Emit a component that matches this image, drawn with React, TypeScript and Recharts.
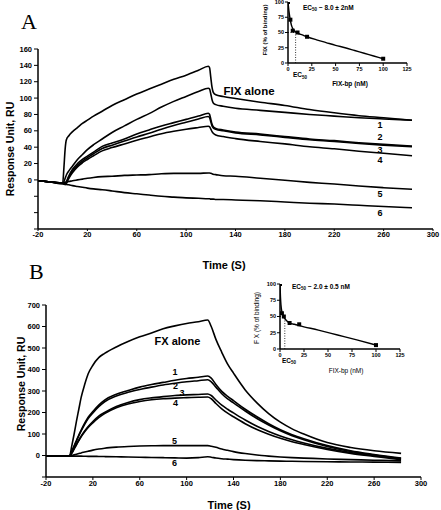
import React from 'react';
import { LineChart, Line, XAxis, YAxis, ComposedChart, ReferenceLine } from 'recharts';

// ---------- Panel A (FIX) ----------
const timeA = [-20, -10, 0, 1, 2, 3, 5, 8, 12, 16, 20, 25, 32, 40, 50, 60, 70, 80, 90, 100, 110, 118, 119, 120, 121, 122, 124, 130, 140, 160, 180, 200, 220, 240, 260, 283];
const fixAloneA = [-1, -2.5, -4, 15, 38, 49, 54, 59, 64, 69, 73, 78, 84, 91, 98, 105, 111, 117, 123, 128, 134, 139, 137, 125, 113, 107, 104, 102, 99.5, 95, 91, 86, 82, 78.5, 76, 73];
const curve1A = [-1, -2.5, -4, -2, 2, 6, 11, 17, 25, 31, 37, 43, 50, 58, 66, 74, 81, 89, 96, 102, 108, 112, 111, 105, 98, 94, 92, 90, 87.5, 85, 82.5, 80, 78, 76, 74.5, 73];
const curve2A = [-1, -2.5, -4, -4.5, -4.5, -2, 5, 13, 20, 25, 29, 34, 41, 45, 50, 56, 61, 66, 70, 74, 78, 81.5, 80, 74, 68, 65, 63, 61, 58.5, 56, 53, 50, 48, 45.5, 43.5, 41.5];
const curve3A = [-1, -2.5, -4, -4.5, -5, -3, 3, 11, 18, 23, 27, 32, 38.5, 42.5, 47.5, 52.5, 57, 62, 66.5, 70.5, 74.5, 77.5, 76, 71, 66, 63.5, 62, 60, 57.5, 55, 52, 49, 47, 44.5, 42.5, 40.5];
const curve4A = [-1, -2.5, -4, -5, -5.5, -4, 2, 9, 16, 21, 25, 29.5, 35.5, 39.5, 44, 48.5, 52.5, 56.5, 59.5, 62, 64, 65.5, 65, 62, 59, 57, 55, 53, 50.5, 47, 44, 40.5, 38, 35, 32.5, 29.5];
const curve5A = [-1, -2.5, -4, -3.5, -3, -2.5, -2, -1, 0, 1, 2, 3, 4, 4.5, 5.5, 6, 6.5, 7.5, 8, 8, 8, 8.5, 8.5, 8, 7.5, 7, 6.5, 5, 4.5, 2, -0.5, -3, -5, -7.5, -9.5, -11.5];
const curve6A = [-1, -2.5, -5, -5, -5.5, -5.5, -6, -7, -8, -9, -10, -11, -12, -13.5, -15.5, -17, -18.5, -20, -21, -22, -22.5, -23, -23, -23.5, -23.5, -23.5, -24, -24, -24.5, -25.5, -27, -28.5, -29.5, -31, -32.5, -34];

// ---------- Panel B (FX) ----------
const timeB = [-20, -10, 0, 2, 4, 6, 8, 10, 13, 16, 20, 25, 30, 40, 50, 60, 70, 80, 90, 100, 110, 118, 121, 125, 130, 135, 140, 150, 160, 170, 180, 190, 200, 220, 240, 260, 283];
const fxAloneB = [-3, -3, -3, 45, 100, 160, 215, 270, 330, 380, 420, 455, 475, 505, 530, 552, 570, 590, 603, 614, 622, 630, 600, 540, 480, 425, 383, 305, 245, 195, 155, 124, 100, 60, 37, 22, 10];
const curve1B = [-3, -3, -3, 20, 45, 70, 95, 118, 150, 178, 205, 235, 258, 285, 302, 318, 330, 340, 350, 358, 364, 370, 360, 330, 298, 275, 255, 215, 180, 148, 120, 97, 78, 46, 22, 5, -12];
const curve2B = [-3, -3, -3, 18, 42, 67, 92, 114, 145, 172, 198, 227, 250, 277, 294, 307, 318, 328, 336, 343, 348, 352, 343, 318, 287, 263, 245, 207, 172, 142, 115, 92, 73, 42, 19, 2, -14];
const curve3B = [-3, -3, -3, 12, 32, 52, 72, 90, 114, 135, 158, 183, 200, 228, 247, 260, 268, 274, 279, 282, 284, 286, 279, 258, 234, 215, 198, 165, 136, 112, 91, 73, 58, 33, 14, 0, -17];
const curve4B = [-3, -3, -3, 10, 30, 50, 69, 87, 110, 130, 152, 176, 195, 222, 240, 251, 259, 264, 267, 269, 271, 272, 264, 242, 217, 197, 180, 148, 121, 99, 80, 64, 51, 28, 10, -4, -20];
const curve5B = [-3, -3, -3, 0, 3, 6, 9, 12, 16, 20, 25, 30, 34, 39, 42, 44, 45, 46, 46, 46, 46, 46, 43, 38, 30, 24, 18, 9, 2, -3, -7, -10, -12, -16, -19, -22, -25];
const curve6B = [-3, -3, -3, -3, -3, -3, -3, -3, -3.5, -4, -4, -4.5, -5, -6, -7, -8, -9, -10, -11, -12, -10, -6, -8, -12, -15, -17, -19, -22, -24, -25, -26, -27, -28, -29, -30, -31, -32];

// ---------- Insets ----------
const insetAFitX = [0, 1, 2, 3, 4, 6, 8, 10, 15, 20, 30, 40, 50, 60, 70, 80, 90, 100];
const insetAFitY = [100, 85, 74, 66, 60, 54, 51, 49, 46, 43, 38, 33.5, 29, 25, 20.5, 16, 11.5, 7];
const insetAPtX = [0, 2.5, 5, 10, 20, 100];
const insetAPtY = [100, 71, 53, 50, 43, 7];
const ec50A = 8;

const insetBFitX = [0, 0.5, 1, 2, 3, 4, 6, 8, 10, 15, 20, 40, 60, 80, 100];
const insetBFitY = [100, 80, 68, 57, 52, 49, 45, 42, 40, 38, 36, 29, 21.5, 14, 6];
const insetBPtX = [0, 2, 4, 10, 20, 100];
const insetBPtY = [100, 55, 50, 40, 38, 6];
const ec50B = 5;

// ---------- Ticks ----------
const timeTicks = [-20, 20, 60, 100, 140, 180, 220, 260, 300];
const yTicksA = [-60, -40, -20, 0, 20, 40, 60, 80, 100, 120, 140, 160];
const yTicksB = [-100, 0, 100, 200, 300, 400, 500, 600, 700];
const insetXTicks = [0, 25, 50, 75, 100, 125];
const insetYTicks = [0, 25, 50, 75, 100];

const keysA = ['fix', 'c1', 'c2', 'c3', 'c4', 'c5', 'c6'];
const seriesA = [fixAloneA, curve1A, curve2A, curve3A, curve4A, curve5A, curve6A];
const seriesB = [fxAloneB, curve1B, curve2B, curve3B, curve4B, curve5B, curve6B];

const rowsA = timeA.map((t, i) => {
  const r: any = { t };
  keysA.forEach((k, j) => (r[k] = seriesA[j][i]));
  return r;
});
const rowsB = timeB.map((t, i) => {
  const r: any = { t };
  keysA.forEach((k, j) => (r[k] = seriesB[j][i]));
  return r;
});
const zipXY = (xs: number[], ys: number[]) => xs.map((x, i) => ({ x, y: ys[i] }));

const SANS = 'Liberation Sans, Arial, sans-serif';
const tickStyle = { fontSize: 7.5, fontWeight: 700, fill: '#000', fontFamily: SANS };
const insetTick = { fontSize: 5.5, fontWeight: 700, fill: '#000', fontFamily: SANS };
const axisLine = { stroke: '#000', strokeWidth: 1.5 };
const tickLine = { stroke: '#000', strokeWidth: 1 };

const Square = (p: any) => {
  if (p.cx == null || p.cy == null) return null;
  return <rect key={`sq-${p.index}`} x={p.cx - 2} y={p.cy - 2} width={4} height={4} fill="#000" />;
};

function Inset({ fit, pts, ec, left, top, w, h, margin, yw }: any) {
  return (
    <div style={{ position: 'absolute', left, top }}>
      <ComposedChart width={w} height={h} margin={margin}>
        <XAxis type="number" dataKey="x" domain={[0, 125]} ticks={insetXTicks} interval={0} tick={insetTick}
          tickSize={3} tickMargin={1} height={12} axisLine={axisLine} tickLine={tickLine} allowDataOverflow />
        <YAxis type="number" dataKey="y" domain={[0, 100]} ticks={insetYTicks} interval={0} tick={insetTick}
          tickSize={3} tickMargin={1} width={yw} axisLine={axisLine} tickLine={tickLine} allowDataOverflow />
        <ReferenceLine segment={[{ x: ec, y: 0 }, { x: ec, y: 50 }]} stroke="#000" strokeWidth={0.8} strokeDasharray="1 1.5" />
        <ReferenceLine segment={[{ x: 0, y: 50 }, { x: ec, y: 50 }]} stroke="#000" strokeWidth={0.8} strokeDasharray="1 1.5" />
        <Line data={fit} dataKey="y" type="monotone" stroke="#000" strokeWidth={1.4} dot={false} isAnimationActive={false} />
        <Line data={pts} dataKey="y" stroke="none" dot={<Square />} isAnimationActive={false} />
      </ComposedChart>
    </div>
  );
}

export default function App() {
  const lines = keysA.map((k) => (
    <Line key={k} dataKey={k} type="monotone" stroke="#000" strokeWidth={1.6} dot={false} isAnimationActive={false} />
  ));
  return (
    <div style={{ position: 'absolute', left: 0, top: 0, width: 441, height: 510, background: '#fff' }}>
      <div style={{ position: 'absolute', left: 0, top: 0 }}>
        <LineChart width={441} height={270} data={rowsA} margin={{ top: 49, right: 8, bottom: 21, left: 0 }}>
          <XAxis type="number" dataKey="t" domain={[-20, 300]} ticks={timeTicks} interval={0} tick={tickStyle}
            tickSize={2} tickMargin={1} height={20} axisLine={axisLine} tickLine={tickLine} allowDataOverflow />
          <YAxis type="number" domain={[-60, 160]} ticks={yTicksA} interval={0} tick={tickStyle}
            tickFormatter={(v: number) => (v < 0 ? '' : String(v))} tickSize={4} tickMargin={2} width={38}
            axisLine={axisLine} tickLine={tickLine} allowDataOverflow />
          {lines}
        </LineChart>
      </div>
      <div style={{ position: 'absolute', left: 0, top: 250 }}>
        <LineChart width={441} height={260} data={rowsB} margin={{ top: 55, right: 20, bottom: 13, left: 0 }}>
          <XAxis type="number" dataKey="t" domain={[-20, 300]} ticks={timeTicks} interval={0} tick={tickStyle}
            tickSize={3} tickMargin={1} height={20} axisLine={axisLine} tickLine={tickLine} allowDataOverflow />
          <YAxis type="number" domain={[-100, 700]} ticks={yTicksB} interval={0} tick={tickStyle}
            tickFormatter={(v: number) => (v < 0 ? '' : String(v))} tickSize={4} tickMargin={2} width={46}
            axisLine={axisLine} tickLine={tickLine} allowDataOverflow />
          {lines}
        </LineChart>
      </div>

      <Inset fit={zipXY(insetAFitX, insetAFitY)} pts={zipXY(insetAPtX, insetAPtY)} ec={ec50A}
        left={250} top={0} w={175} h={95} margin={{ top: 2, right: 18, bottom: 20, left: 0 }} yw={38} />
      <Inset fit={zipXY(insetBFitX, insetBFitY)} pts={zipXY(insetBPtX, insetBPtY)} ec={ec50B}
        left={240} top={280} w={175} h={95} margin={{ top: 4, right: 15, bottom: 14, left: 0 }} yw={40} />

      <svg width={441} height={510} style={{ position: 'absolute', left: 0, top: 0, pointerEvents: 'none' }}>
        <g fontFamily="Liberation Serif, Times New Roman, serif" fill="#000">
          <text x={21} y={28.5} fontSize={22}>A</text>
          <text x={29} y={279} fontSize={22}>B</text>
        </g>
        <g fontFamily={SANS} fontWeight={700} fill="#000">
          <text transform="translate(10,149) rotate(-90)" textAnchor="middle" dominantBaseline="central" fontSize={10.5}>Response Unit, RU</text>
          <text transform="translate(21,384) rotate(-90)" textAnchor="middle" dominantBaseline="central" fontSize={10.5}>Response Unit, RU</text>
          <text x={224} y={265} textAnchor="middle" dominantBaseline="central" fontSize={11}>Time (S)</text>
          <text x={229} y={505} textAnchor="middle" dominantBaseline="central" fontSize={11}>Time (S)</text>

          <text x={249} y={91} textAnchor="middle" dominantBaseline="central" fontSize={11.5}>FIX alone</text>
          <text x={380} y={125} textAnchor="middle" dominantBaseline="central" fontSize={9}>1</text>
          <text x={380} y={137} textAnchor="middle" dominantBaseline="central" fontSize={9}>2</text>
          <text x={380} y={149.5} textAnchor="middle" dominantBaseline="central" fontSize={9}>3</text>
          <text x={380} y={159.5} textAnchor="middle" dominantBaseline="central" fontSize={9}>4</text>
          <text x={380} y={194} textAnchor="middle" dominantBaseline="central" fontSize={9}>5</text>
          <text x={380} y={213} textAnchor="middle" dominantBaseline="central" fontSize={9}>6</text>

          <text x={177.5} y={341} textAnchor="middle" dominantBaseline="central" fontSize={11}>FX alone</text>
          <text x={175} y={372} textAnchor="middle" dominantBaseline="central" fontSize={9}>1</text>
          <text x={175.5} y={386} textAnchor="middle" dominantBaseline="central" fontSize={9}>2</text>
          <text x={182} y={393} textAnchor="middle" dominantBaseline="central" fontSize={9}>3</text>
          <text x={175.5} y={403} textAnchor="middle" dominantBaseline="central" fontSize={9}>4</text>
          <text x={174.5} y={441} textAnchor="middle" dominantBaseline="central" fontSize={9}>5</text>
          <text x={174.5} y={463} textAnchor="middle" dominantBaseline="central" fontSize={9}>6</text>

          {/* inset A texts */}
          <text x={303} y={9.5} fontSize={6.5}>EC<tspan fontSize={4.5} dy={1.5}>50</tspan><tspan dy={-1.5}> ~ 8.0 ± 2nM</tspan></text>
          <text transform="translate(265,30) rotate(-90)" textAnchor="middle" dominantBaseline="central" fontSize={6}>FIX (% of binding)</text>
          <text x={350} y={83} textAnchor="middle" dominantBaseline="central" fontSize={6.5}>FIX-bp (nM)</text>
          <text x={293} y={77} fontSize={6.5}>EC<tspan fontSize={4.5} dy={1.5}>50</tspan></text>

          {/* inset B texts */}
          <text x={292} y={288.5} fontSize={6.5}>EC<tspan fontSize={4.5} dy={1.5}>50</tspan><tspan dy={-1.5}> ~ 2.0 ± 0.5 nM</tspan></text>
          <text x={282} y={362.5} fontSize={6.5}>EC<tspan fontSize={4.5} dy={1.5}>50</tspan></text>
        </g>
        <g fontFamily={SANS} fill="#000">
          <text transform="translate(256,318) rotate(-90)" textAnchor="middle" dominantBaseline="central" fontSize={6.5}>F X (% of binding)</text>
          <text x={346} y={370} textAnchor="middle" dominantBaseline="central" fontSize={6.5}>FIX-bp (nM)</text>
        </g>
      </svg>
    </div>
  );
}
